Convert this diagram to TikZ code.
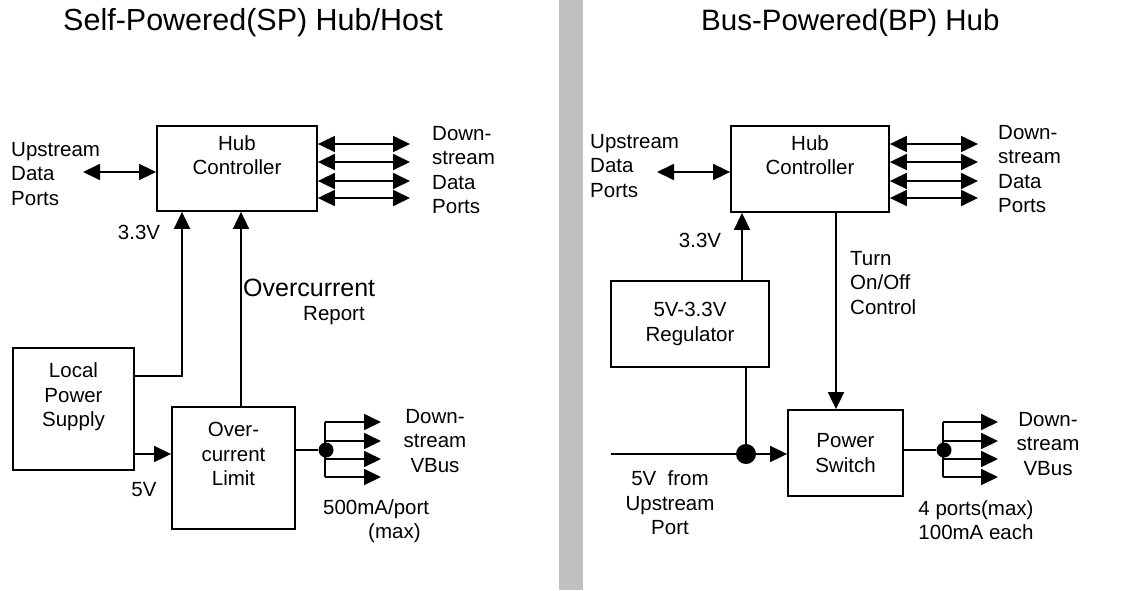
\documentclass[tikz,border=0pt]{standalone}
\usepackage{fontspec}
\setmainfont{Liberation Sans}
\usetikzlibrary{arrows.meta}
\definecolor{barGray}{HTML}{C0C0C0}

\begin{document}
\begin{tikzpicture}[x=1pt,y=-1pt,
box/.style ={rectangle, draw, line width=1.8pt, inner sep=0pt,
  font=\fontsize{20.5}{24.5}\selectfont, align=center
},
txt/.style ={font=\fontsize{20.5}{24.5}\selectfont, inner sep=0pt, align=center},
lbl/.style ={font=\fontsize{20.5}{24.5}\selectfont, inner sep=0pt, align=left, anchor=west},
head/.style ={font=\fontsize{30.5}{36}\selectfont, inner sep=0pt},
wire/.style ={line width=1.8pt},
sig/.style ={wire, -{Triangle[length=17pt,width=16pt]}},
bus/.style ={wire, {Triangle[length=17pt,width=16pt]}-{Triangle[length=17pt,width=16pt]}},
dot/.style ={circle, fill, inner sep=0pt, minimum size=15pt}]
\useasboundingbox (0,0) rectangle (1128,590);
\fill[barGray] (559,0) rectangle (583,590);

\node (tSP) at (63,23) [head, anchor=west] {Self-Powered(SP) Hub/Host};
\node (tBP) at (701,23) [head, anchor=west, font=\fontsize{29.5}{36}\selectfont] {Bus-Powered(BP) Hub};

\node (hub1) at (237,168.5) [box, minimum width=160pt, minimum height=85pt] {};
\node (hub1t) at (237,155) [txt] {Hub\\Controller};
\node (lps) at (73.5,409) [box, minimum width=121pt, minimum height=122pt] {};
\node (lpst) at (73.5,397) [txt] {Local\\Power\\Supply};
\node (ocl) at (233.5,468) [box, minimum width=123pt, minimum height=122pt] {};
\node (oclt) at (233.5,454) [txt] {Over-\\current\\Limit};
\node (up1) at (11,174) [lbl] {Upstream\\Data\\Ports};
\node (dn1) at (432,170) [lbl] {Down-\\stream\\Data\\Ports};
\node (v33a) at (139,232) [txt] {3.3V};
\node (oc) at (243,288) [lbl, font=\fontsize{25}{30}\selectfont] {Overcurrent};
\node (rep) at (303,316) [lbl] {Report};
\node (v5) at (144,490) [txt] {5V};
\node (vb1) at (435,441) [txt] {Down-\\stream\\VBus};
\node (ma1) at (323,521) [lbl] {500mA/port\\\hspace*{45pt}(max)};
\node (j1) at (326,450) [dot] {};

\coordinate (a1) at (83,172);
\draw[bus] (a1) -- (a1 -| hub1.west);
\foreach \y [count=\i] in {144,162,181,198} {
  \coordinate (d1\i) at (410,\y);
  \draw[bus] (hub1.east |- d1\i) -- (d1\i);
}
\coordinate (c1) at (182,376);
\draw[sig] (lps.east |- c1) -- (c1) -- (c1 |- hub1.south);
\coordinate (c2) at (241,0);
\draw[sig] (c2 |- ocl.north) -- (c2 |- hub1.south);
\coordinate (c3) at (0,454);
\draw[sig] (lps.east |- c3) -- (ocl.west |- c3);
\draw[wire] (ocl.east |- j1) -- (j1);
\coordinate (k1) at (325,422);
\coordinate (k2) at (325,477);
\draw[wire] (k1) -- (k2);
\foreach \y [count=\i] in {422,441,459,477} {
  \coordinate (s1\i) at (325,\y);
  \coordinate (e1\i) at (381,\y);
  \draw[sig] (s1\i) -- (e1\i);
}

\node (hub2) at (810,169) [box, minimum width=158pt, minimum height=86pt] {};
\node (hub2t) at (810,155) [txt] {Hub\\Controller};
\node (reg) at (690,324) [box, minimum width=158pt, minimum height=86pt] {5V-3.3V\\Regulator};
\node (psw) at (845.5,453) [box, minimum width=115pt, minimum height=86pt] {Power\\Switch};
\node (up2) at (590,166) [lbl] {Upstream\\Data\\Ports};
\node (dn2) at (998,169) [lbl] {Down-\\stream\\Data\\Ports};
\node (v33b) at (700,240) [txt] {3.3V};
\node (turn) at (850,283) [lbl] {Turn\\On/Off\\Control};
\node (vin) at (670,503) [txt] {5V\ \ from\\Upstream\\Port};
\node (vb2) at (1048,444) [txt] {Down-\\stream\\VBus};
\node (pm) at (976,520) [txt] {4 ports(max)\\100mA each};
\node (j2) at (746,454) [dot, minimum size=20pt] {};
\node (j3) at (944,450) [dot] {};

\coordinate (a2) at (657,172);
\draw[bus] (a2) -- (a2 -| hub2.west);
\foreach \y [count=\i] in {144,162,181,198} {
  \coordinate (d2\i) at (978,\y);
  \draw[bus] (hub2.east |- d2\i) -- (d2\i);
}
\coordinate (c4) at (742,0);
\draw[sig] (c4 |- reg.north) -- (c4 |- hub2.south);
\coordinate (c5) at (836,0);
\draw[sig] (c5 |- hub2.south) -- (c5 |- psw.north);
\draw[wire] (j2 |- reg.south) -- (j2);
\coordinate (vin0) at (611,454);
\draw[sig] (vin0) -- (psw.west |- vin0);
\draw[wire] (psw.east |- j3) -- (j3);
\coordinate (k3) at (943,422);
\coordinate (k4) at (943,477);
\draw[wire] (k3) -- (k4);
\foreach \y [count=\i] in {422,441,459,477} {
  \coordinate (s2\i) at (943,\y);
  \coordinate (e2\i) at (998,\y);
  \draw[sig] (s2\i) -- (e2\i);
}
\end{tikzpicture}
\end{document}
